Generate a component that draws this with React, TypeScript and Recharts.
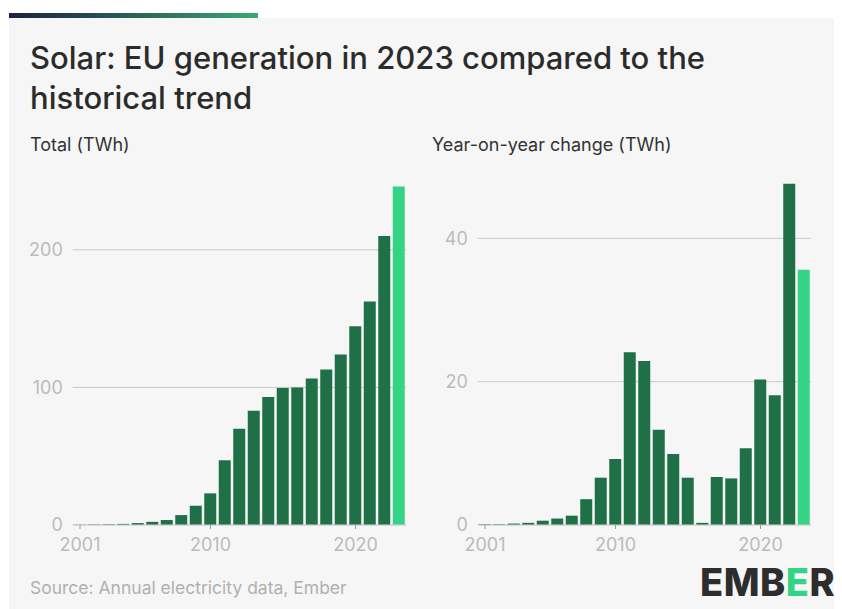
import { BarChart, Bar, XAxis, YAxis, CartesianGrid, Cell } from 'recharts';

const years = [
  '2001', '2002', '2003', '2004', '2005', '2006', '2007', '2008', '2009', '2010', '2011', '2012',
  '2013', '2014', '2015', '2016', '2017', '2018', '2019', '2020', '2021', '2022', '2023',
];
const totalTWh = [
  0.2, 0.4, 0.5, 0.8, 1.4, 2.3, 3.6, 7.2, 14, 23, 47, 70, 83, 93, 99.5, 100, 106.5, 113, 124, 144.5,
  162.5, 210, 246,
];
const changeTWh = [
  0.1, 0.1, 0.2, 0.3, 0.6, 0.9, 1.3, 3.6, 6.6, 9.2, 24.1, 22.9, 13.3, 9.9, 6.6, 0.3, 6.7, 6.5, 10.7,
  20.3, 18.1, 47.6, 35.6,
];
const xTicks = ['2001', '2010', '2020'];
const totalTicks = [0, 100, 200];
const changeTicks = [0, 20, 40];

const DARK = '#1f6f47';
const LIGHT = '#34d484';
const FONT = 'Inter, "Noto Sans", sans-serif';
const tickStyle = { fill: '#bbbbbb', fontSize: 18, fontFamily: FONT };

const totalData = years.map((year, i) => ({ year, value: totalTWh[i] }));
const changeData = years.map((year, i) => ({ year, value: changeTWh[i] }));

interface PanelProps {
  data: { year: string; value: number }[];
  domainMax: number;
  yTicks: number[];
  width: number;
  yWidth: number;
}

function Panel({ data, domainMax, yTicks, width, yWidth }: PanelProps) {
  return (
    <BarChart width={width} height={385} data={data} margin={{ top: 11, right: 0, bottom: 0, left: 0 }} barSize={12}>
      <CartesianGrid vertical={false} stroke="#c9c9c9" horizontalValues={yTicks} />
      <XAxis
        dataKey="year"
        ticks={xTicks}
        interval={0}
        tick={tickStyle}
        tickSize={4}
        tickMargin={9}
        axisLine={{ stroke: '#d4d4d4' }}
        tickLine={{ stroke: '#9a9a9a' }}
        height={30}
      />
      <YAxis
        domain={[0, domainMax]}
        ticks={yTicks}
        width={yWidth}
        tick={tickStyle}
        tickMargin={4}
        axisLine={false}
        tickLine={false}
      />
      <Bar dataKey="value" isAnimationActive={false}>
        {data.map((d, i) => (
          <Cell key={d.year} fill={i === data.length - 1 ? LIGHT : DARK} />
        ))}
      </Bar>
    </BarChart>
  );
}

export default function App() {
  return (
    <div style={{ position: 'relative', width: 834, height: 601, fontFamily: FONT }}>
      <div style={{ position: 'absolute', left: 1, top: 10, width: 833, height: 591, background: '#f6f6f6' }} />
      <div
        style={{
          position: 'absolute',
          left: 1,
          top: 5,
          width: 249,
          height: 5,
          background: 'linear-gradient(90deg, #1c2240 0%, #2a5a55 45%, #3aa874 100%)',
        }}
      />
      <div
        style={{
          position: 'absolute',
          left: 22,
          top: 30,
          width: 780,
          fontSize: 31,
          lineHeight: '40px',
          fontWeight: 500,
          color: '#2b2b2b',
        }}
      >
        Solar: EU generation in 2023 compared to the historical trend
      </div>
      <div style={{ position: 'absolute', left: 22, top: 126, fontSize: 18, lineHeight: '22px', color: '#333' }}>
        Total (TWh)
      </div>
      <div style={{ position: 'absolute', left: 424, top: 126, fontSize: 18, lineHeight: '22px', color: '#333' }}>
        Year-on-year change (TWh)
      </div>
      <div style={{ position: 'absolute', left: 0, top: 162 }}>
        <Panel data={totalData} domainMax={250} yTicks={totalTicks} width={398.25} yWidth={64.75} />
      </div>
      <div style={{ position: 'absolute', left: 412, top: 162 }}>
        <Panel data={changeData} domainMax={48} yTicks={changeTicks} width={391.25} yWidth={57.75} />
      </div>
      <div style={{ position: 'absolute', left: 22, top: 569, fontSize: 17.5, lineHeight: '22px', color: '#b0b0b0' }}>
        Source: Annual electricity data, Ember
      </div>
      <div
        style={{
          position: 'absolute',
          left: 692,
          top: 555,
          fontSize: 38,
          lineHeight: '38px',
          fontWeight: 800,
          color: '#2d2d2d',
          letterSpacing: 0.5,
        }}
      >
        EMB<span style={{ color: LIGHT }}>E</span>R
      </div>
    </div>
  );
}
